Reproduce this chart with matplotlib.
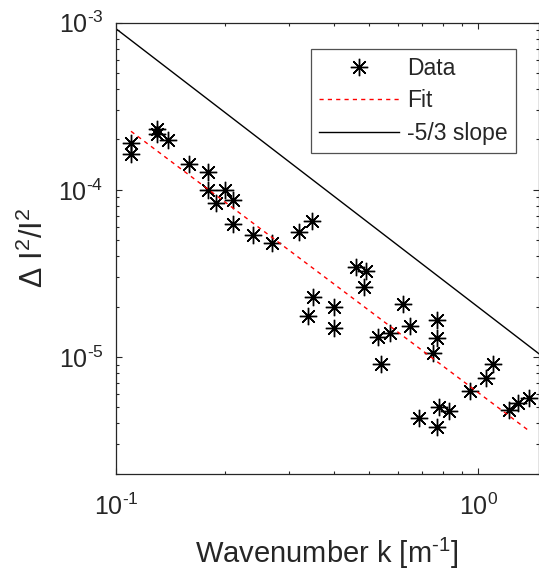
import matplotlib
matplotlib.use('Agg')
import math
import matplotlib.pyplot as plt
from matplotlib.ticker import LogLocator, NullFormatter, FixedLocator, FuncFormatter

plt.rcParams['font.family'] = ['Liberation Sans', 'DejaVu Sans']
plt.rcParams['mathtext.fontset'] = 'custom'
plt.rcParams['mathtext.rm'] = 'Liberation Sans'
plt.rcParams['mathtext.it'] = 'Liberation Sans:italic'
plt.rcParams['mathtext.default'] = 'regular'
plt.rcParams['axes.unicode_minus'] = False

# ---- data ----
k_data = [0.110, 0.110, 0.1295, 0.1295, 0.1395, 0.159, 0.179, 0.179, 0.1995, 0.1888,
          0.210, 0.210, 0.2393, 0.2695, 0.3206, 0.348, 0.4587, 0.490, 0.4846, 0.349,
          0.3396, 0.3996, 0.3996, 0.6184, 0.6478, 0.5294, 0.569, 0.769, 0.769, 0.748,
          0.5388, 0.9487, 1.048, 1.100, 1.218, 1.290, 1.383, 0.6873, 0.780, 0.830, 0.767]
v_data = [1.917e-4, 1.646e-4, 2.303e-4, 2.17e-4, 1.998e-4, 1.434e-4, 1.284e-4, 1.0e-4, 1.0e-4, 8.29e-5,
          8.64e-5, 6.2e-5, 5.40e-5, 4.80e-5, 5.61e-5, 6.55e-5, 3.47e-5, 3.25e-5, 2.63e-5, 2.27e-5,
          1.747e-5, 1.984e-5, 1.484e-5, 2.07e-5, 1.526e-5, 1.307e-5, 1.395e-5, 1.669e-5, 1.293e-5, 1.054e-5,
          9.13e-6, 6.26e-6, 7.52e-6, 9.05e-6, 4.84e-6, 5.33e-6, 5.71e-6, 4.30e-6, 5.04e-6, 4.75e-6, 3.82e-6]
fit_k = [0.110, 1.383]
fit_v = [2.24e-4, 3.6e-6]
slope_k = [0.1, 1.5]
slope_v = [9.2e-4, 1.01e-5]

x_ticks = [0.1, 1.0]
y_ticks = [1e-5, 1e-4, 1e-3]
labels = ['Data', 'Fit', '-5/3 slope']
xlabel = r'Wavenumber k [m$^{\text{-}1}$]'
ylabel = '\u0394 I$^2$/I$^2$'

TXT = '#262626'


def pow10(v, pos):
    e = int(round(math.log10(v)))
    if e < 0:
        return r'10$^{\text{-}%d}$' % (-e)
    return r'10$^{%d}$' % e


W, H = 539, 572
fig = plt.figure(figsize=(W / 100, H / 100), dpi=100)
left, right, top, bottom = 116, 538.5, 22.7, 473.7
ax = fig.add_axes([left / W, 1 - bottom / H, (right - left) / W, (bottom - top) / H])

ax.plot(k_data, v_data, linestyle='none', marker=(8, 2, 0), markersize=12.5,
        markeredgewidth=1.0, color='black', label=labels[0])
ax.plot(k_data, v_data, linestyle='none', marker='s', markersize=2.5,
        color='black')
ax.plot(fit_k, fit_v, linestyle=(0, (3, 3)), color='red', linewidth=1.0, label=labels[1])
ax.plot(slope_k, slope_v, color='black', linewidth=1.0, label=labels[2])

ax.set_xscale('log')
ax.set_yscale('log')
ax.set_xlim(0.1, 1.466)
ax.set_ylim(2e-6, 1e-3)

ax.xaxis.set_major_locator(FixedLocator(x_ticks))
ax.xaxis.set_minor_locator(LogLocator(base=10, subs=range(2, 10)))
ax.yaxis.set_major_locator(FixedLocator(y_ticks))
ax.yaxis.set_minor_locator(LogLocator(base=10, subs=range(2, 10)))
ax.xaxis.set_major_formatter(FuncFormatter(pow10))
ax.yaxis.set_major_formatter(FuncFormatter(pow10))
ax.xaxis.set_minor_formatter(NullFormatter())
ax.yaxis.set_minor_formatter(NullFormatter())

ax.tick_params(which='both', direction='in', top=True, right=True, colors=TXT,
               width=0.8)
ax.tick_params(which='major', length=4, labelsize=18)
ax.tick_params(axis='x', which='major', pad=14)
ax.tick_params(axis='y', which='major', pad=9)
ax.tick_params(which='minor', length=2.5)
for s in ax.spines.values():
    s.set_color(TXT)
    s.set_linewidth(0.9)

ax.set_xlabel(xlabel, fontsize=21, color=TXT, labelpad=12)
ax.set_ylabel(ylabel, fontsize=22, color=TXT, labelpad=6)

leg = ax.legend(loc='upper right', bbox_to_anchor=(515.7 / W, 1 - 49.3 / H),
                bbox_transform=fig.transFigure, fontsize=16.5, frameon=True,
                fancybox=False, edgecolor=TXT, handlelength=3.5,
                handletextpad=0.35, labelspacing=0.4, borderpad=0.35,
                borderaxespad=0)
leg.get_frame().set_linewidth(0.9)
for t in leg.get_texts():
    t.set_color(TXT)

fig.savefig('out.png', dpi=100)
